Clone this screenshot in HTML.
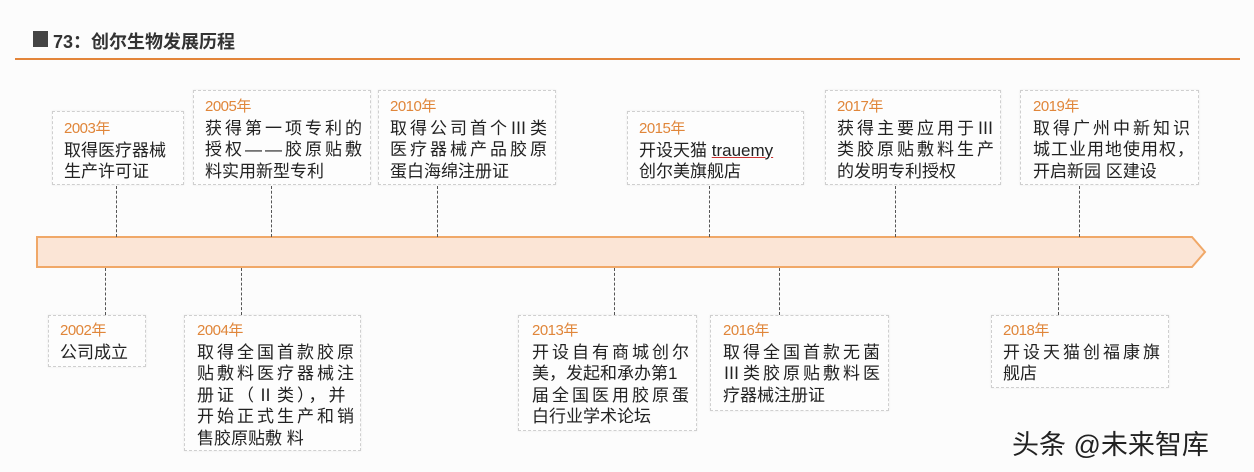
<!DOCTYPE html>
<html><head><meta charset="utf-8"><style>
*{margin:0;padding:0;box-sizing:border-box}
body{width:1254px;height:472px;background:#fcfcfc;position:relative;overflow:hidden;font-family:"Liberation Sans","Noto Sans CJK SC",sans-serif;color:#222}
.box{position:absolute;border:1px dashed #cfcfcf;background:#fdfdfd;box-shadow:0 0 2px rgba(0,0,0,0.08)}
.t{position:absolute;font-size:17px;line-height:21.5px;white-space:nowrap}
.y{color:#e0863a;font-size:15px;letter-spacing:-0.5px}
.w{letter-spacing:3px}
.v{position:absolute;width:0;border-left:1.5px dashed #555}
</style></head><body>
<div style="position:absolute;left:33px;top:31px;width:15px;height:16px;background:#444"></div>
<div style="position:absolute;left:53px;top:28px;font-size:18px;font-weight:bold;color:#333;font-family:'Liberation Sans','Noto Sans CJK SC',sans-serif">73：创尔生物发展历程</div>
<div style="position:absolute;left:15px;top:58px;width:1225px;height:2px;background:#e3853a"></div>

<svg style="position:absolute;left:0;top:0" width="1254" height="472">
<polygon points="37,237 1192,237 1205,252 1192,267 37,267" fill="#fbe5d6" stroke="#f0a868" stroke-width="2"/>
</svg>

<div class="v" style="left:116px;top:186px;height:51px"></div>
<div class="v" style="left:271px;top:186px;height:51px"></div>
<div class="v" style="left:437px;top:186px;height:51px"></div>
<div class="v" style="left:709px;top:186px;height:51px"></div>
<div class="v" style="left:895px;top:186px;height:51px"></div>
<div class="v" style="left:1079px;top:186px;height:51px"></div>

<div class="v" style="left:105px;top:268px;height:47px"></div>
<div class="v" style="left:241px;top:268px;height:47px"></div>
<div class="v" style="left:614px;top:268px;height:47px"></div>
<div class="v" style="left:779px;top:268px;height:47px"></div>
<div class="v" style="left:1058px;top:268px;height:47px"></div>

<div class="box" style="left:52px;top:111px;width:132px;height:74px"></div>
<div class="t" style="left:64px;top:117px"><span class="y">2003年</span><br>取得医疗器械<br>生产许可证</div>

<div class="box" style="left:193px;top:90px;width:178px;height:95px"></div>
<div class="t" style="left:205px;top:95px"><span class="y">2005年</span><br><span class="w">获得第一项专利的</span><br><span class="w">授权——胶原贴敷</span><br>料实用新型专利</div>

<div class="box" style="left:378px;top:90px;width:178px;height:95px"></div>
<div class="t" style="left:390px;top:95px"><span class="y">2010年</span><br><span class="w">取得公司首个Ⅲ类</span><br><span class="w">医疗器械产品胶原</span><br>蛋白海绵注册证</div>

<div class="box" style="left:627px;top:111px;width:177px;height:74px"></div>
<div class="t" style="left:639px;top:117px"><span class="y">2015年</span><br>开设天猫 <span style="text-decoration:underline;text-decoration-color:#c33">trauemy</span><br>创尔美旗舰店</div>

<div class="box" style="left:825px;top:90px;width:176px;height:95px"></div>
<div class="t" style="left:837px;top:95px"><span class="y">2017年</span><br><span class="w">获得主要应用于Ⅲ</span><br><span class="w">类胶原贴敷料生产</span><br>的发明专利授权</div>

<div class="box" style="left:1020px;top:90px;width:179px;height:95px"></div>
<div class="t" style="left:1033px;top:95px"><span class="y">2019年</span><br><span class="w">取得广州中新知识</span><br><span style="letter-spacing:1px">城工业用地使用权，</span><br>开启新园 区建设</div>

<div class="box" style="left:48px;top:315px;width:98px;height:52px"></div>
<div class="t" style="left:60px;top:319px"><span class="y">2002年</span><br>公司成立</div>

<div class="box" style="left:184px;top:315px;width:177px;height:136px"></div>
<div class="t" style="left:197px;top:319px"><span class="y">2004年</span><br><span class="w">取得全国首款胶原</span><br><span class="w">贴敷料医疗器械注</span><br><span class="w">册证（Ⅱ类），并</span><br><span class="w">开始正式生产和销</span><br>售胶原贴敷 料</div>

<div class="box" style="left:518px;top:315px;width:179px;height:116px"></div>
<div class="t" style="left:532px;top:319px"><span class="y">2013年</span><br><span class="w">开设自有商城创尔</span><br>美，发起和承办第1<br><span class="w">届全国医用胶原蛋</span><br>白行业学术论坛</div>

<div class="box" style="left:710px;top:315px;width:179px;height:96px"></div>
<div class="t" style="left:723px;top:319px"><span class="y">2016年</span><br><span class="w">取得全国首款无菌</span><br><span class="w">Ⅲ类胶原贴敷料医</span><br>疗器械注册证</div>

<div class="box" style="left:991px;top:315px;width:178px;height:73px"></div>
<div class="t" style="left:1003px;top:319px"><span class="y">2018年</span><br><span class="w">开设天猫创福康旗</span><br>舰店</div>

<div style="position:absolute;left:1012px;top:423px;font-size:27px;color:#222;white-space:nowrap">头条 @未来智库</div>
</body></html>
